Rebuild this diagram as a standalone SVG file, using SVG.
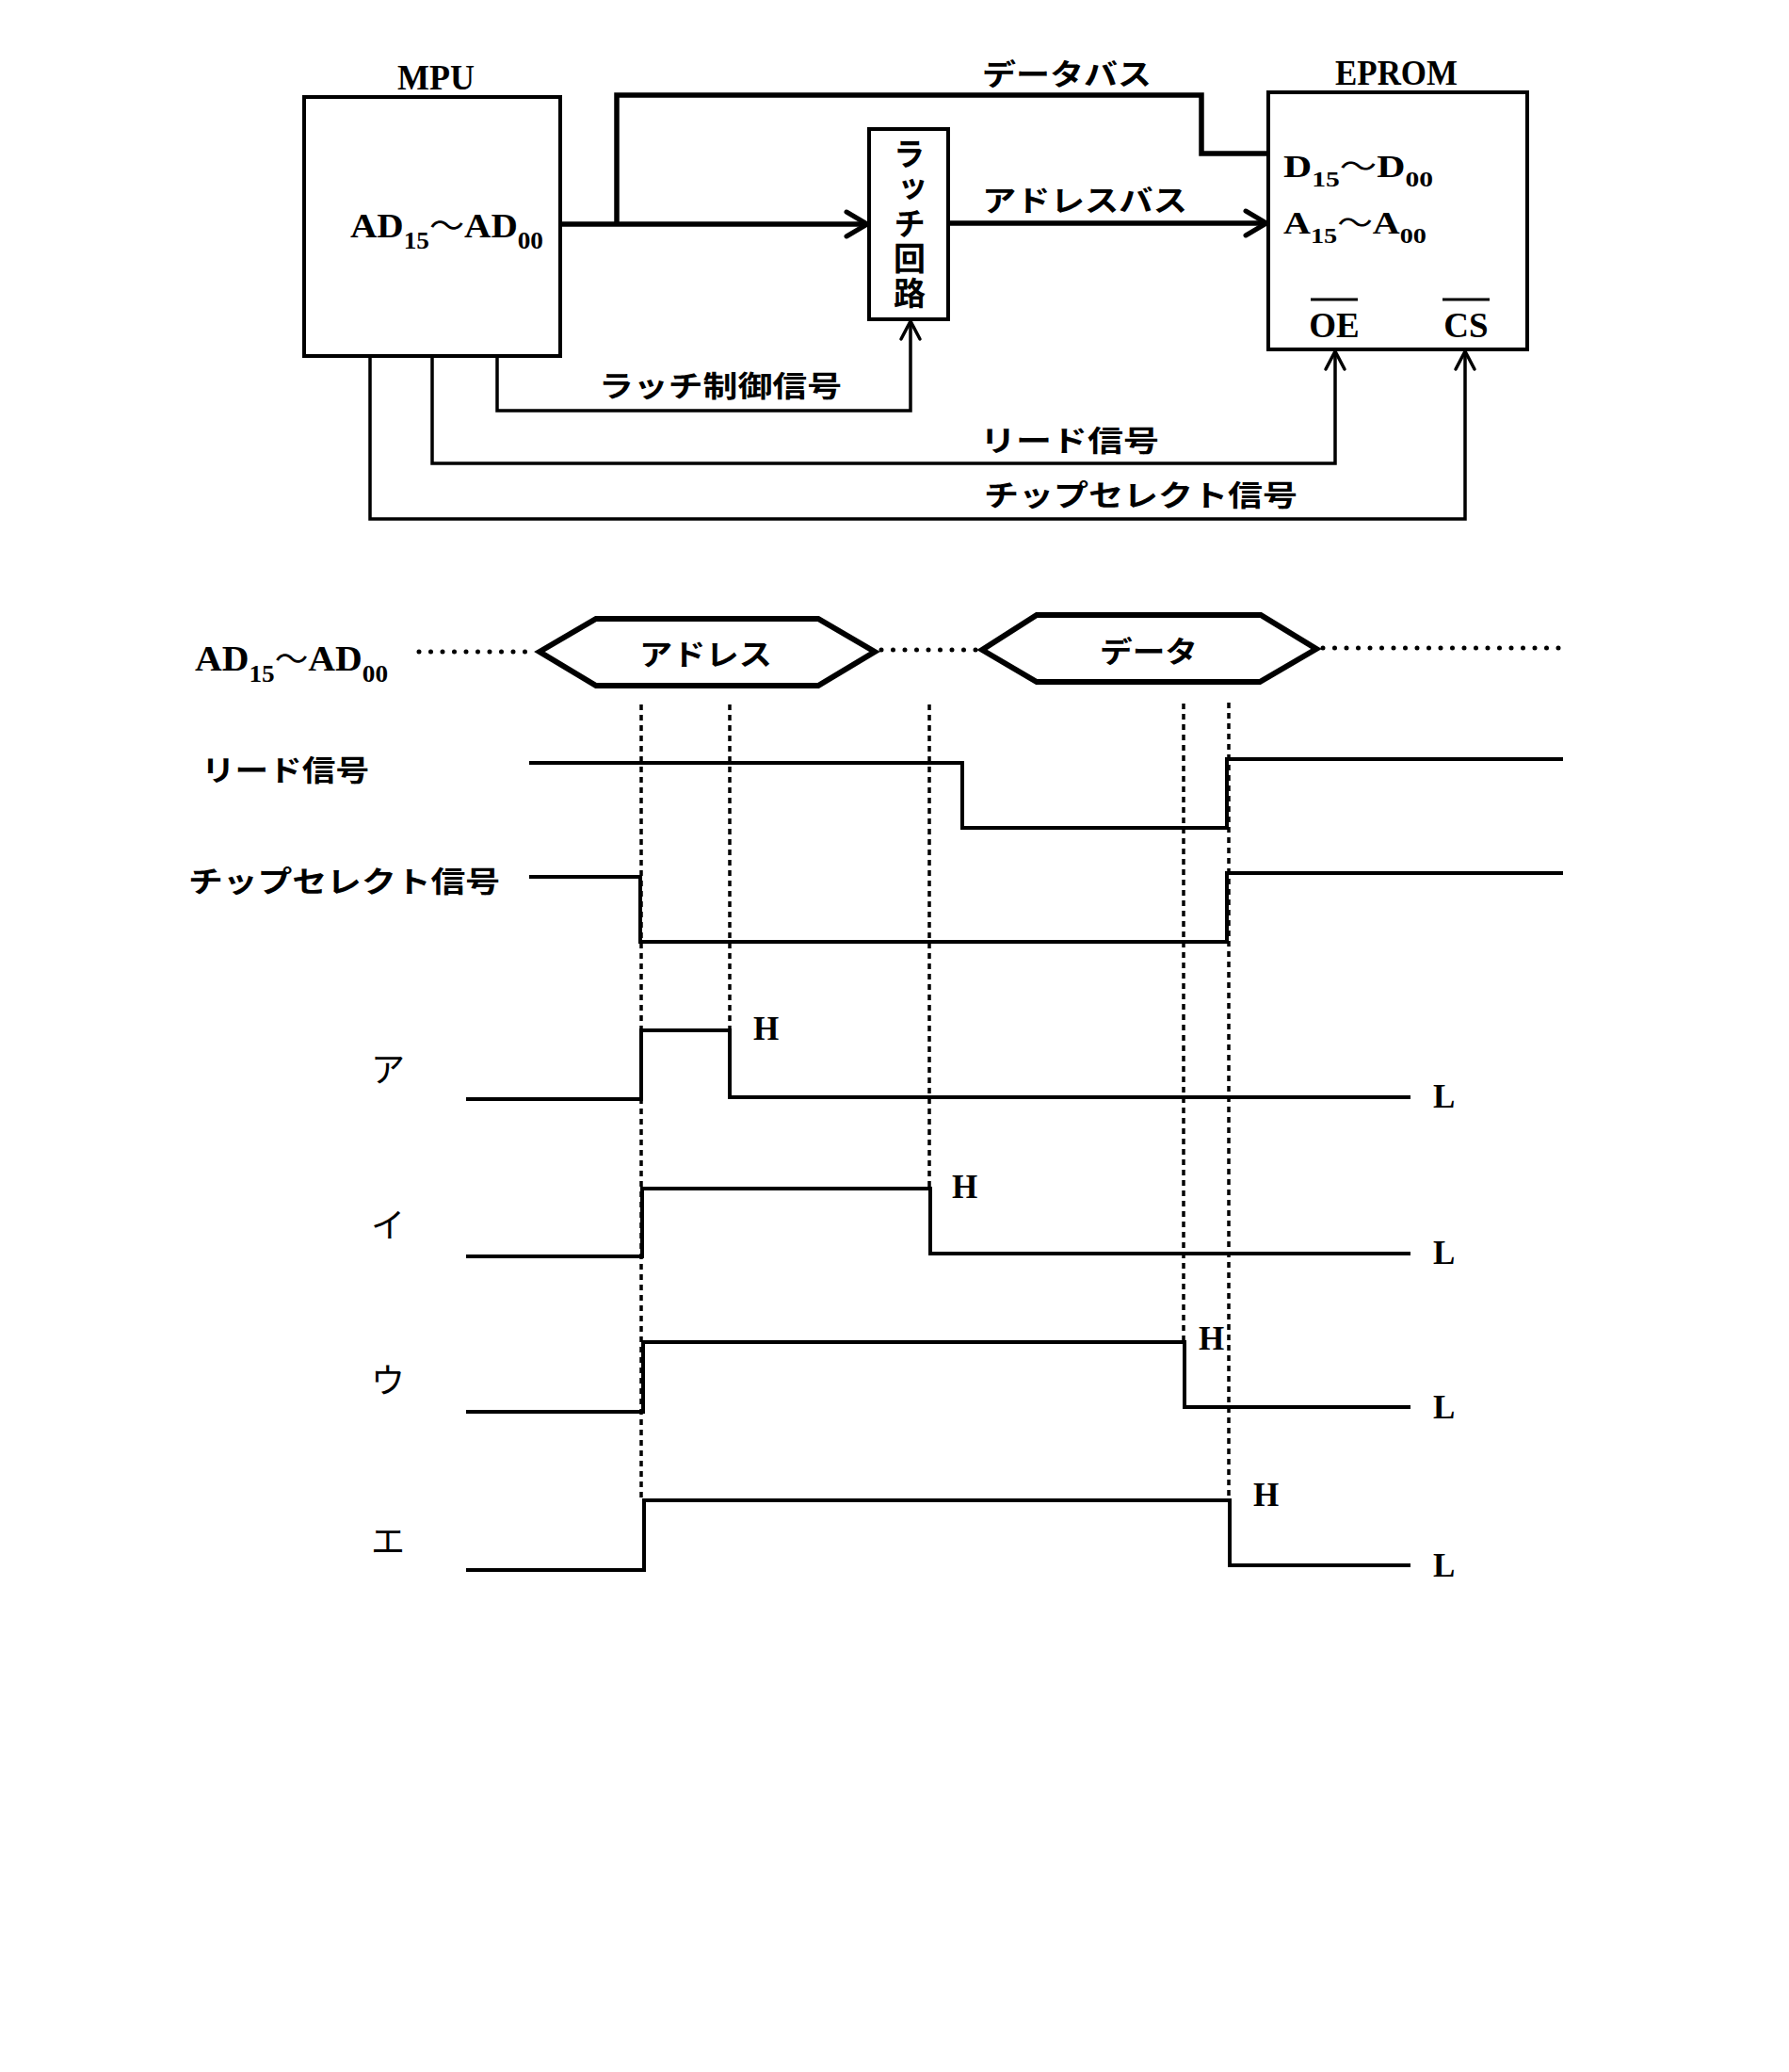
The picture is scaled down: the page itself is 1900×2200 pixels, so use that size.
<svg xmlns="http://www.w3.org/2000/svg" width="1900" height="2200" viewBox="0 0 1900 2200">
<style>
 .box{fill:none;stroke:#000;stroke-width:4}
 .bus{fill:none;stroke:#000;stroke-width:5.5;stroke-linejoin:miter}
 .sig{fill:none;stroke:#000;stroke-width:3.5}
 .wave{fill:none;stroke:#000;stroke-width:4}
 .hex{fill:none;stroke:#000;stroke-width:6;stroke-linejoin:miter}
 .dot{fill:none;stroke:#000;stroke-width:5;stroke-linecap:round;stroke-dasharray:0 12.5}
 .dash{fill:none;stroke:#000;stroke-width:3.5;stroke-dasharray:6 5}
 .ser{font-family:"Liberation Serif","Times New Roman",serif;font-weight:bold;fill:#000}
 .jp{font-family:"Noto Sans CJK JP","Noto Sans CJK SC",sans-serif;font-weight:bold;fill:#000}
 .kana{font-family:"Noto Sans CJK JP","Noto Sans CJK SC",sans-serif;font-weight:normal;font-size:36px;fill:#000}
 .wd{font-family:"Noto Sans CJK JP",sans-serif;font-weight:normal}
 .hl{font-family:"Liberation Serif","Times New Roman",serif;font-weight:bold;font-size:35px;fill:#000}
</style>
<defs>
 <marker id="ab" markerUnits="userSpaceOnUse" viewBox="-26 -16 30 32" markerWidth="30" markerHeight="32" refX="0" refY="0" orient="auto">
  <path d="M-22,-13 L0,0 L-22,13" fill="none" stroke="#000" stroke-width="5" stroke-linecap="round" stroke-linejoin="round"/>
 </marker>
 <marker id="as" markerUnits="userSpaceOnUse" viewBox="-24 -14 28 28" markerWidth="28" markerHeight="28" refX="0" refY="0" orient="auto">
  <path d="M-19,-10 L0,0 L-19,10" fill="none" stroke="#000" stroke-width="3.5" stroke-linecap="round" stroke-linejoin="round"/>
 </marker>
</defs>
<rect x="0" y="0" width="1900" height="2200" fill="#fff"/>

<!-- Block diagram nodes -->
<g id="node-mpu">
 <rect class="box" x="323" y="103" width="272" height="275"/>
 <text class="ser" x="463" y="95" text-anchor="middle" font-size="38" textLength="82" lengthAdjust="spacingAndGlyphs">MPU</text>
 <text class="ser" x="372" y="252" font-size="36" textLength="205" lengthAdjust="spacingAndGlyphs">AD<tspan font-size="25" dy="12">15</tspan><tspan class="wd" dy="-12" font-size="34">〜</tspan>AD<tspan font-size="25" dy="12">00</tspan></text>
</g>

<g id="node-latch">
 <rect class="box" x="923" y="137" width="84" height="202"/>
 <text class="jp" x="966" y="146" font-size="34" writing-mode="vertical-rl" letter-spacing="3">ラッチ回路</text>
</g>

<g id="node-eprom">
 <rect class="box" x="1347" y="98" width="275" height="273"/>
 <text class="ser" x="1483" y="90" text-anchor="middle" font-size="38" textLength="130" lengthAdjust="spacingAndGlyphs">EPROM</text>
 <text class="ser" x="1363" y="188" font-size="34" textLength="159" lengthAdjust="spacingAndGlyphs">D<tspan font-size="24" dy="10">15</tspan><tspan class="wd" dy="-10" font-size="32">〜</tspan>D<tspan font-size="24" dy="10">00</tspan></text>
 <text class="ser" x="1363" y="248" font-size="34" textLength="152" lengthAdjust="spacingAndGlyphs">A<tspan font-size="24" dy="10">15</tspan><tspan class="wd" dy="-10" font-size="32">〜</tspan>A<tspan font-size="24" dy="10">00</tspan></text>
 <text class="ser" x="1417" y="358" text-anchor="middle" font-size="37">OE</text>
 <text class="ser" x="1557" y="358" text-anchor="middle" font-size="37">CS</text>
 <line x1="1392" y1="318" x2="1442" y2="318" stroke="#000" stroke-width="3"/>
 <line x1="1532" y1="318" x2="1582" y2="318" stroke="#000" stroke-width="3"/>
</g>

<!-- Connectors -->
<g id="connectors">
 <path class="bus" d="M595,238 L921,238" marker-end="url(#ab)"/>
 <path class="bus" d="M655,238 L655,101 L1276,101 L1276,163 L1347,163"/>
 <path class="bus" d="M1007,237 L1345,237" marker-end="url(#ab)"/>
 <path class="sig" d="M528,378 L528,436 L967,436 L967,341" marker-end="url(#as)"/>
 <path class="sig" d="M459,378 L459,492 L1418,492 L1418,373" marker-end="url(#as)"/>
 <path class="sig" d="M393,378 L393,551 L1556,551 L1556,373" marker-end="url(#as)"/>
</g>

<g id="connector-labels" class="jp" font-size="31">
 <text x="1043" y="90" textLength="180" lengthAdjust="spacingAndGlyphs">データバス</text>
 <text x="1043" y="224" textLength="218" lengthAdjust="spacingAndGlyphs">アドレスバス</text>
 <text x="636" y="421" textLength="258" lengthAdjust="spacingAndGlyphs">ラッチ制御信号</text>
 <text x="1041" y="479" textLength="190" lengthAdjust="spacingAndGlyphs">リード信号</text>
 <text x="1045" y="537" textLength="333" lengthAdjust="spacingAndGlyphs">チップセレクト信号</text>
</g>

<!-- Timing chart -->
<g id="timing-labels">
 <text class="ser" x="207" y="712" font-size="38" textLength="205" lengthAdjust="spacingAndGlyphs">AD<tspan font-size="26" dy="12">15</tspan><tspan class="wd" dy="-12" font-size="34">〜</tspan>AD<tspan font-size="26" dy="12">00</tspan></text>
 <g class="jp" font-size="31">
  <text x="214" y="829" textLength="178" lengthAdjust="spacingAndGlyphs">リード信号</text>
  <text x="200" y="947" textLength="331" lengthAdjust="spacingAndGlyphs">チップセレクト信号</text>
 </g>
 <g class="kana" text-anchor="middle">
  <text x="412" y="1149">ア</text>
  <text x="412" y="1314">イ</text>
  <text x="412" y="1479">ウ</text>
  <text x="412" y="1650">エ</text>
 </g>
</g>

<g id="bus-timeline">
 <path class="dot" d="M445,692 L567,692"/>
 <path class="dot" d="M936,690 L1038,690"/>
 <path class="dot" d="M1405,688 L1658,688"/>
 <polygon class="hex" points="573,692 633,657 869,657 929,692 869,728 633,728"/>
 <polygon class="hex" points="1043,690 1101,653 1339,653 1398,689 1338,724 1101,724"/>
 <text class="jp" x="679" y="706" font-size="31" textLength="141" lengthAdjust="spacingAndGlyphs">アドレス</text>
 <text class="jp" x="1168" y="703" font-size="31" textLength="104" lengthAdjust="spacingAndGlyphs">データ</text>
</g>

<g id="guides">
 <path class="dash" d="M681,748 L681,1592"/>
 <path class="dash" d="M775,748 L775,1093"/>
 <path class="dash" d="M987,748 L987,1262"/>
 <path class="dash" d="M1257,747 L1257,1424"/>
 <path class="dash" d="M1305,746 L1305,1592"/>
</g>

<g id="waveforms">
 <path class="wave" d="M562,810 H1022 V879 H1303 V806 H1660"/>
 <path class="wave" d="M562,931 H680 V1000 H1303 V927 H1660"/>
 <path class="wave" d="M495,1167 H681 V1094 H775 V1165 H1498"/>
 <path class="wave" d="M495,1334 H682 V1262 H988 V1331 H1498"/>
 <path class="wave" d="M495,1499 H683 V1425 H1258 V1494 H1498"/>
 <path class="wave" d="M495,1667 H684 V1593 H1306 V1662 H1498"/>
</g>

<g id="levels">
 <text class="hl" x="800" y="1104">H</text>
 <text class="hl" x="1522" y="1176">L</text>
 <text class="hl" x="1011" y="1272">H</text>
 <text class="hl" x="1522" y="1342">L</text>
 <text class="hl" x="1273" y="1433">H</text>
 <text class="hl" x="1522" y="1506">L</text>
 <text class="hl" x="1331" y="1599">H</text>
 <text class="hl" x="1522" y="1674">L</text>
</g>
</svg>
